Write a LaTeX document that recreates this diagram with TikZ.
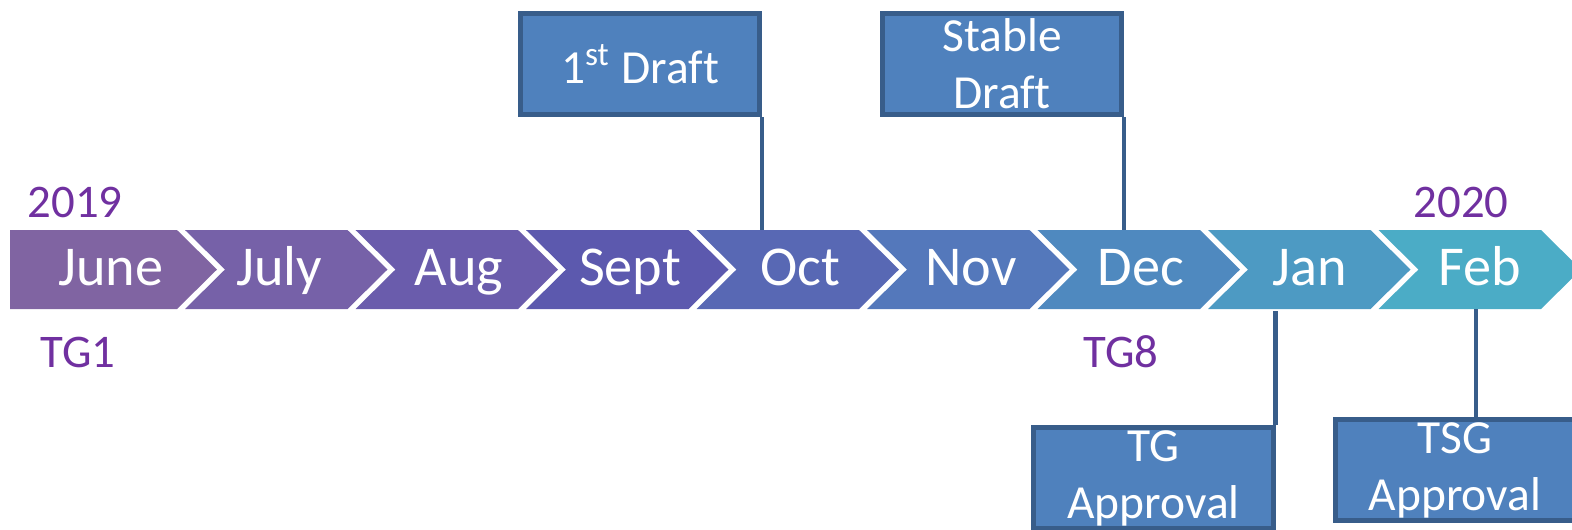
\documentclass[tikz,border=0pt]{standalone}
\usepackage{fontspec}
\setmainfont{Carlito}[Ligatures=CommonOff]
\usepackage{xcolor}
\usetikzlibrary{positioning, calc}
\definecolor{junec}{RGB}{128,100,162}
\definecolor{julyc}{RGB}{118,97,168}
\definecolor{augc}{RGB}{106,92,172}
\definecolor{septc}{RGB}{92,89,174}
\definecolor{octc}{RGB}{88,104,180}
\definecolor{novc}{RGB}{84,120,187}
\definecolor{decc}{RGB}{79,137,191}
\definecolor{janc}{RGB}{77,154,195}
\definecolor{febc}{RGB}{75,172,198}
\definecolor{boxfill}{RGB}{79,129,189}
\definecolor{boxedge}{RGB}{56,93,138}
\definecolor{yearc}{RGB}{112,48,160}
\tikzset{
        month/.style={anchor=base, text=white, inner sep=0pt, font=\fontsize{16}{19}\selectfont},
        yearlabel/.style={anchor=base, text=yearc, inner sep=0pt, font=\fontsize{13.3}{16}\selectfont},
        milestone/.style={rectangle, draw=boxedge, line width=0.5mm, fill=boxfill, text=white, minimum width=2.39cm, minimum height=1.01cm, inner sep=0pt, align=center, font=\fontsize{13.5}{16.2}\selectfont},
        tick/.style={draw=boxedge, line width=0.45mm},
    }
\begin{document}
\begin{tikzpicture}[x=0.01cm, y=-0.01cm]
        \useasboundingbox (0,0) rectangle (1572,529);

        % Chevron band
        \fill[junec] (10,230) -- (177,230) -- (217,269.5) -- (177,309) -- (10,309) -- cycle;
        \fill[julyc] (185,230) -- (347.5,230) -- (387.5,269.5) -- (347.5,309) -- (185,309) -- (225,269.5) -- cycle;
        \fill[augc] (355.5,230) -- (518,230) -- (558,269.5) -- (518,309) -- (355.5,309) -- (395.5,269.5) -- cycle;
        \fill[septc] (526,230) -- (688.5,230) -- (728.5,269.5) -- (688.5,309) -- (526,309) -- (566,269.5) -- cycle;
        \fill[octc] (696.5,230) -- (859,230) -- (899,269.5) -- (859,309) -- (696.5,309) -- (736.5,269.5) -- cycle;
        \fill[novc] (867,230) -- (1029.5,230) -- (1069.5,269.5) -- (1029.5,309) -- (867,309) -- (907,269.5) -- cycle;
        \fill[decc] (1037.5,230) -- (1200,230) -- (1240,269.5) -- (1200,309) -- (1037.5,309) -- (1077.5,269.5) -- cycle;
        \fill[janc] (1208,230) -- (1370.5,230) -- (1410.5,269.5) -- (1370.5,309) -- (1208,309) -- (1248,269.5) -- cycle;
        \fill[febc] (1378.5,230) -- (1541,230) -- (1581,269.5) -- (1541,309) -- (1378.5,309) -- (1418.5,269.5) -- cycle;
        \coordinate (bandtop) at (0,230);
        \coordinate (bandbot) at (0,311);

        % Months
        \node[month] (june) at (111,285) {June};
        \node[month] (july) at (279,285) {July};
        \node[month] (aug) at (459,285) {Aug};
        \node[month] (sept) at (630,285) {Sept};
        \node[month] (oct) at (800,285) {Oct};
        \node[month] (nov) at (971,285) {Nov};
        \node[month] (dec) at (1141,285) {Dec};
        \node[month] (jan) at (1310,285) {Jan};
        \node[month] (feb) at (1480,285) {Feb};

        % Years and meetings
        \node[yearlabel] (y2019) at (75,217) {2019};
        \node[yearlabel] (y2020) at (1461,217) {2020};
        \node[yearlabel] (tg1) at (78,367) {TG1};
        \node[yearlabel] (tg8) at (1121,367) {TG8};

        % Milestones
        \node[milestone] (draft1) at (640,64) {1\textsuperscript{st} Draft};
        \node[milestone] (stable) at (1002,64) {Stable\\Draft};
        \node[milestone] (tgappr) at (1153.5,478) {TG\\Approval};
        \node[milestone] (tsgappr) at (1455,470) {TSG\\Approval};
        \coordinate (febtick) at (1476,309);

        \draw[tick] (draft1.south east) -- (draft1.south east |- bandtop);
        \draw[tick] (stable.south east) -- (stable.south east |- bandtop);
        \draw[tick] (tgappr.north east) -- (tgappr.north east |- bandbot);
        \draw[tick] (febtick) -- (febtick |- tsgappr.north);
    \end{tikzpicture}
\end{document}
